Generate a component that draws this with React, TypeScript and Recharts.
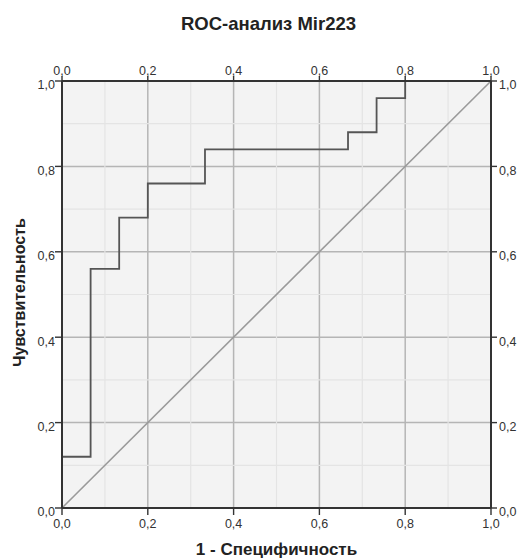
import {
  ComposedChart,
  Line,
  XAxis,
  YAxis,
  CartesianGrid,
  ReferenceLine,
} from 'recharts'

// ROC points (1 - specificity, sensitivity), 15 negatives / 25 positives
const fpr = [0, 0, 0.0667, 0.1333, 0.2, 0.3333, 0.6667, 0.7333, 0.8, 1]
const tpr = [0, 0.12, 0.56, 0.68, 0.76, 0.84, 0.88, 0.96, 1, 1]

const diagX = [0, 1]
const diagY = [0, 1]

const majorTicks = [0, 0.2, 0.4, 0.6, 0.8, 1]
const minorTicks = [0.1, 0.3, 0.5, 0.7, 0.9]

const rocData = fpr.map((x, i) => ({ x, y: tpr[i] }))
const diagData = diagX.map((x, i) => ({ x, y: diagY[i] }))

const FONT = '"Liberation Sans", Arial, sans-serif'
const fmt = (v: number) => v.toFixed(1).replace('.', ',')

const tickStyle = { fontSize: 12.5, fill: '#333', fontFamily: FONT }
const yTickStyle = { ...tickStyle, dy: 4 }
const axisLine = { stroke: '#333', strokeWidth: 2 }
const tickLine = { stroke: '#333', strokeWidth: 1.4 }

export default function App() {
  return (
    <div style={{ position: 'absolute', left: 0, top: 0, width: 518, height: 558, background: '#fff' }}>
      <div
        style={{
          position: 'absolute',
          left: 0,
          top: 13,
          width: 537,
          textAlign: 'center',
          fontFamily: FONT,
          fontWeight: 'bold',
          fontSize: 18.5,
          color: '#222',
        }}
      >
        ROC-анализ Mir223
      </div>
      <ComposedChart
        width={518}
        height={558}
        margin={{ top: 61, right: 0, bottom: 2, left: 4 }}
        style={{ fontFamily: FONT }}
      >
        <CartesianGrid
          xAxisId="b"
          yAxisId="l"
          fill="#f3f3f3"
          stroke="#b5b5b5"
          strokeWidth={1.5}
        />
        {minorTicks.map((t) => (
          <ReferenceLine key={`vx-${t}`} xAxisId="b" yAxisId="l" x={t} stroke="#e4e4e4" strokeWidth={1.2} />
        ))}
        {minorTicks.map((t) => (
          <ReferenceLine key={`hy-${t}`} xAxisId="b" yAxisId="l" y={t} stroke="#e4e4e4" strokeWidth={1.2} />
        ))}
        <XAxis
          xAxisId="b"
          dataKey="x"
          type="number"
          domain={[0, 1]}
          ticks={majorTicks}
          tickFormatter={fmt}
          height={48}
          tick={tickStyle}
          tickSize={7}
          tickMargin={4}
          axisLine={axisLine}
          tickLine={tickLine}
          label={{
            value: '1 - Специфичность',
            position: 'insideBottom',
            offset: 1,
            style: { fontSize: 17, fontWeight: 'bold', fill: '#222', fontFamily: FONT },
          }}
        />
        <XAxis
          xAxisId="t"
          orientation="top"
          dataKey="x"
          type="number"
          domain={[0, 1]}
          ticks={majorTicks}
          tickFormatter={fmt}
          height={20}
          tick={tickStyle}
          tickSize={5}
          tickMargin={1}
          axisLine={axisLine}
          tickLine={tickLine}
        />
        <YAxis
          yAxisId="l"
          type="number"
          domain={[0, 1]}
          ticks={majorTicks}
          tickFormatter={fmt}
          width={58}
          tick={yTickStyle}
          tickSize={7}
          tickMargin={0}
          axisLine={axisLine}
          tickLine={tickLine}
          label={{
            value: 'Чувствительность',
            angle: -90,
            position: 'insideLeft',
            offset: 15,
            dy: -2,
            style: { textAnchor: 'middle', fontSize: 16, fontWeight: 'bold', fill: '#222', fontFamily: FONT },
          }}
        />
        <YAxis
          yAxisId="r"
          orientation="right"
          type="number"
          domain={[0, 1]}
          ticks={majorTicks}
          tickFormatter={fmt}
          width={27}
          tick={yTickStyle}
          tickSize={6}
          tickMargin={2}
          axisLine={axisLine}
          tickLine={tickLine}
        />
        {/* invisible series so the top and right axes get drawn */}
        <Line
          xAxisId="t"
          yAxisId="r"
          data={diagData}
          dataKey="y"
          stroke="none"
          dot={false}
          activeDot={false}
          legendType="none"
          isAnimationActive={false}
        />
        <Line
          xAxisId="b"
          yAxisId="l"
          data={diagData}
          dataKey="y"
          type="linear"
          stroke="#9a9a9a"
          strokeWidth={1.6}
          dot={false}
          activeDot={false}
          isAnimationActive={false}
        />
        <Line
          xAxisId="b"
          yAxisId="l"
          data={rocData}
          dataKey="y"
          type="stepAfter"
          stroke="#555"
          strokeWidth={1.8}
          dot={false}
          activeDot={false}
          isAnimationActive={false}
        />
      </ComposedChart>
    </div>
  )
}
